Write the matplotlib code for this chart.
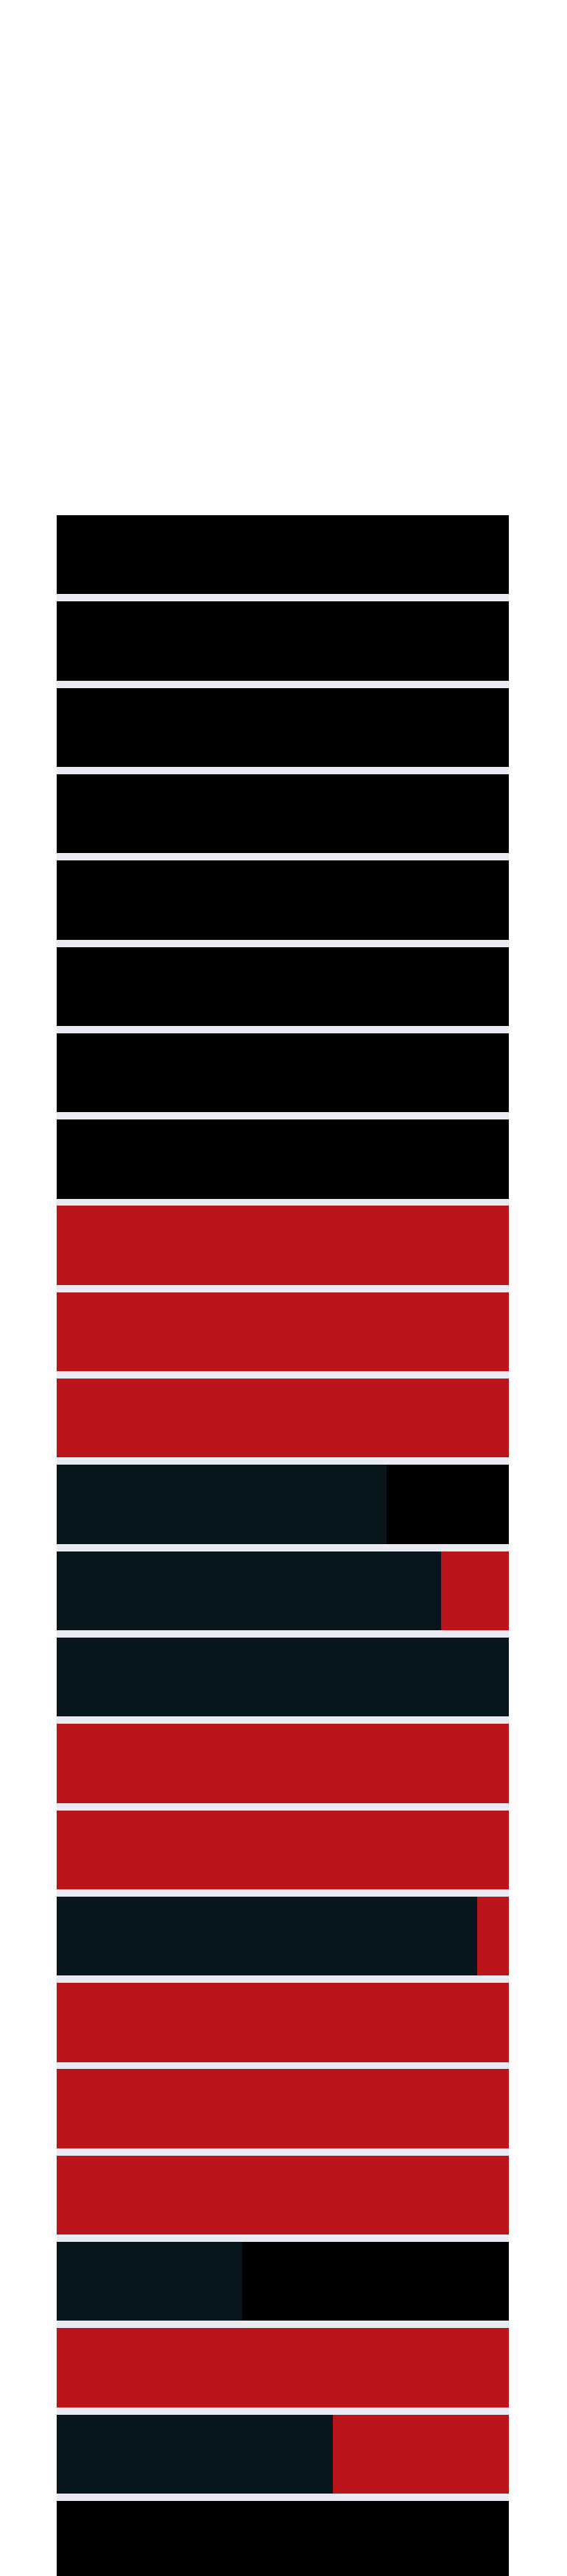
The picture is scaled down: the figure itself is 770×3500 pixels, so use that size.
import matplotlib
matplotlib.use('Agg')
import matplotlib.pyplot as plt
import numpy as np

# shares per row (percent), stacked left to right: dark, red, black
rows = list(range(24))
dark = [0, 0, 0, 0, 0, 0, 0, 0, 0, 0, 0, 73, 85, 100, 0, 0, 93, 0, 0, 0, 41, 0, 61, 0]
red = [0, 0, 0, 0, 0, 0, 0, 0, 100, 100, 100, 0, 15, 0, 100, 100, 7, 100, 100, 100, 0, 100, 39, 0]
black = [100, 100, 100, 100, 100, 100, 100, 100, 0, 0, 0, 27, 0, 0, 0, 0, 0, 0, 0, 0, 59, 0, 0, 100]

dark = np.array(dark)
red = np.array(red)
black = np.array(black)

fig = plt.figure(figsize=(7.7, 35), dpi=100)
fig.patch.set_facecolor('white')
ax = fig.add_axes([77 / 770, 0, 614 / 770, 2800 / 3500])
ax.set_facecolor('#eaeaf2')

h = 0.916
ax.barh(rows, dark, height=h, color='#06161c', linewidth=0)
ax.barh(rows, red, height=h, left=dark, color='#bb151b', linewidth=0)
ax.barh(rows, black, height=h, left=dark + red, color='#000000', linewidth=0)

ax.set_xlim(0, 100)
ax.set_ylim(-h / 2 + 2800 / 117.3, -h / 2)
ax.set_xticks([])
ax.set_yticks([])
for s in ax.spines.values():
    s.set_visible(False)

plt.savefig('out.png', dpi=100, facecolor='white')
